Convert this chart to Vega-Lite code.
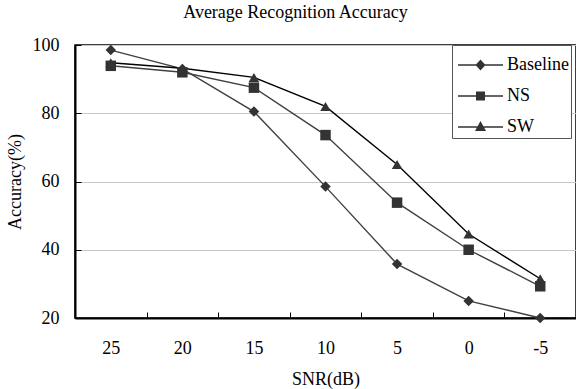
{
  "$schema": "https://vega.github.io/schema/vega-lite/v6.json",
  "width": 501,
  "height": 273,
  "autosize": "none",
  "padding": {"left": 75, "top": 45, "right": 0, "bottom": 71},
  "background": "white",
  "title": {
    "text": "Average Recognition Accuracy",
    "font": "Liberation Serif",
    "fontSize": 18,
    "fontWeight": "normal",
    "color": "#000",
    "anchor": "middle",
    "frame": "group",
    "dx": -30,
    "offset": 14
  },
  "config": {
    "view": {"stroke": "#000", "strokeWidth": 1.5},
    "axis": {
      "labelFont": "Liberation Serif",
      "titleFont": "Liberation Serif",
      "labelColor": "#000",
      "titleColor": "#000",
      "titleFontWeight": "normal",
      "labelFontSize": 18,
      "titleFontSize": 18,
      "domainColor": "#000",
      "domainWidth": 2,
      "tickColor": "#000",
      "tickWidth": 1
    }
  },
  "data": {
    "values": [
      {"snr": 25, "acc": 98.5, "series": "Baseline"},
      {"snr": 20, "acc": 93.0, "series": "Baseline"},
      {"snr": 15, "acc": 80.5, "series": "Baseline"},
      {"snr": 10, "acc": 58.5, "series": "Baseline"},
      {"snr": 5, "acc": 35.8, "series": "Baseline"},
      {"snr": 0, "acc": 25.0, "series": "Baseline"},
      {"snr": -5, "acc": 20.0, "series": "Baseline"},
      {"snr": 25, "acc": 93.9, "series": "NS"},
      {"snr": 20, "acc": 92.0, "series": "NS"},
      {"snr": 15, "acc": 87.5, "series": "NS"},
      {"snr": 10, "acc": 73.6, "series": "NS"},
      {"snr": 5, "acc": 53.8, "series": "NS"},
      {"snr": 0, "acc": 40.0, "series": "NS"},
      {"snr": -5, "acc": 29.3, "series": "NS"},
      {"snr": 25, "acc": 94.8, "series": "SW"},
      {"snr": 20, "acc": 93.2, "series": "SW"},
      {"snr": 15, "acc": 90.5, "series": "SW"},
      {"snr": 10, "acc": 82.0, "series": "SW"},
      {"snr": 5, "acc": 65.0, "series": "SW"},
      {"snr": 0, "acc": 44.6, "series": "SW"},
      {"snr": -5, "acc": 31.5, "series": "SW"}
    ]
  },
  "encoding": {
    "x": {
      "field": "snr",
      "type": "ordinal",
      "sort": [25, 20, 15, 10, 5, 0, -5],
      "bandPosition": 0.5,
      "scale": {"type": "band", "paddingInner": 0, "paddingOuter": 0},
      "axis": {
        "title": "SNR(dB)",
        "labelAngle": 0,
        "tickBand": "extent",
        "tickSize": -6,
        "labelPadding": 27,
        "titlePadding": 13,
        "grid": false
      }
    },
    "y": {
      "field": "acc",
      "type": "quantitative",
      "scale": {"domain": [20, 100], "nice": false, "zero": false},
      "axis": {
        "title": "Accuracy(%)",
        "values": [20, 40, 60, 80, 100],
        "tickSize": -6,
        "labelPadding": 22,
        "titlePadding": 8,
        "grid": true,
        "gridColor": "#c8c8c8",
        "gridWidth": 1
      }
    }
  },
  "layer": [
    {
      "mark": {"type": "line", "strokeWidth": 1.4},
      "encoding": {
        "color": {
          "field": "series",
          "type": "nominal",
          "scale": {"domain": ["Baseline", "NS", "SW"], "range": ["#404040", "#404040", "#000000"]},
          "legend": null
        }
      }
    },
    {
      "mark": {"type": "point", "filled": true, "opacity": 1, "color": "#333333", "size": 110},
      "encoding": {
        "shape": {
          "field": "series",
          "type": "nominal",
          "scale": {"domain": ["Baseline", "NS", "SW"], "range": ["diamond", "square", "triangle-up"]},
          "legend": null
        }
      }
    },
    {
      "mark": {"type": "point", "filled": true, "opacity": 0, "color": "#333333", "size": 400},
      "encoding": {
        "shape": {
          "field": "series",
          "type": "nominal",
          "scale": {
            "domain": ["Baseline", "NS", "SW"],
            "range": [
              "M-2.25,-0.075H2.25V0.075H-2.25Z M0,-0.55L0.5,0L0,0.55L-0.5,0Z",
              "M-2.25,-0.075H2.25V0.075H-2.25Z M-0.45,-0.45H0.45V0.45H-0.45Z",
              "M-2.25,-0.075H2.25V0.075H-2.25Z M0,-0.6L0.55,0.4H-0.55Z"
            ]
          },
          "legend": {
            "title": " ",
            "titleFontSize": 1,
            "titlePadding": 7,
            "orient": "none",
            "legendX": 377,
            "legendY": 0,
            "strokeColor": "#555555",
            "fillColor": "#ffffff",
            "padding": 2,
            "labelFont": "Liberation Serif",
            "labelFontSize": 18,
            "labelColor": "#000",
            "symbolSize": 400,
            "symbolOffset": 16.5,
            "labelOffset": 16.5,
            "rowPadding": 12,
            "symbolStrokeWidth": 0,
            "symbolFillColor": "#333333",
            "symbolOpacity": 1
          }
        }
      }
    }
  ],
  "resolve": {"scale": {"shape": "independent"}}
}
